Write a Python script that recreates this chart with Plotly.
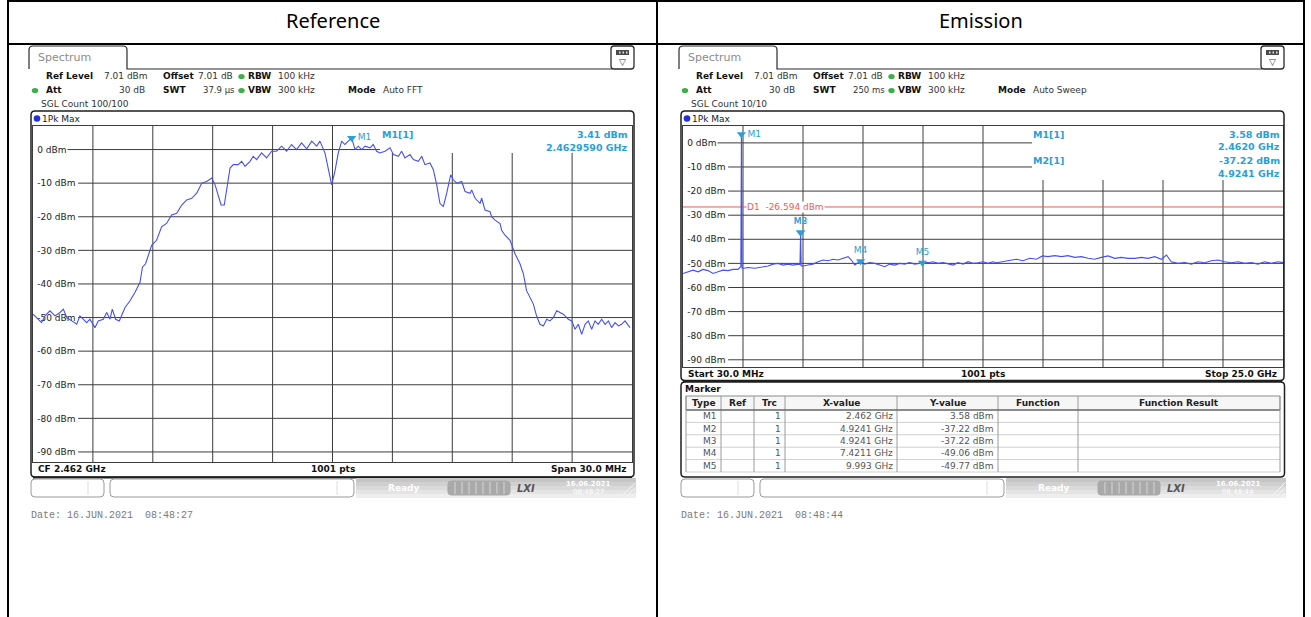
import plotly.graph_objects as go

W, H = 1311, 617
FONT = "DejaVu Sans"
MONO = "Liberation Mono"
MARKER_BLUE = "#2a9fd9"
TRACE_BLUE = "#4650ee"
GRID = "#3c3c3c"

# ---------------- data ----------------
ref_level = 7.01
level_ticks = [0, -10, -20, -30, -40, -50, -60, -70, -80, -90]

# Reference sweep: CF 2.462 GHz, span 30 MHz (MHz / dBm)
ref_start_mhz, ref_stop_mhz = 2447.0, 2477.0
ref_freq_mhz = [
    2447.00, 2447.18, 2447.43, 2447.60, 2447.85, 2448.10, 2448.35, 2448.52, 2448.69, 2448.94,
    2449.19, 2449.35, 2449.52, 2449.69, 2449.85, 2450.10, 2450.27, 2450.52, 2450.69, 2450.86,
    2450.97, 2451.14, 2451.32, 2451.47, 2451.61, 2451.86, 2452.11, 2452.36, 2452.48, 2452.64,
    2452.81, 2452.94, 2453.19, 2453.44, 2453.69, 2453.94, 2454.20, 2454.45, 2454.70, 2454.95,
    2455.20, 2455.45, 2455.70, 2455.95, 2456.12, 2456.28, 2456.42, 2456.58, 2456.70, 2456.87,
    2457.03, 2457.28, 2457.45, 2457.62, 2457.87, 2458.03, 2458.20, 2458.45, 2458.70, 2458.95,
    2459.20, 2459.45, 2459.70, 2459.95, 2460.20, 2460.45, 2460.71, 2460.96, 2461.21, 2461.37,
    2461.62, 2461.79, 2461.96, 2462.12, 2462.29, 2462.46, 2462.62, 2462.79, 2462.96, 2463.13,
    2463.29, 2463.46, 2463.63, 2463.88, 2464.04, 2464.21, 2464.38, 2464.63, 2464.88, 2465.05,
    2465.30, 2465.46, 2465.63, 2465.88, 2466.05, 2466.30, 2466.47, 2466.63, 2466.88, 2467.05,
    2467.22, 2467.38, 2467.55, 2467.72, 2467.92, 2468.05, 2468.22, 2468.47, 2468.64, 2468.89,
    2468.97, 2469.14, 2469.39, 2469.47, 2469.64, 2469.89, 2469.97, 2470.14, 2470.39, 2470.47,
    2470.64, 2470.89, 2470.97, 2471.14, 2471.39, 2471.56, 2471.72, 2471.89, 2472.06, 2472.22,
    2472.39, 2472.56, 2472.73, 2472.89, 2473.06, 2473.23, 2473.39, 2473.56, 2473.81, 2473.98,
    2474.15, 2474.31, 2474.48, 2474.65, 2474.81, 2474.98, 2475.15, 2475.31, 2475.48, 2475.65,
    2475.82, 2475.98, 2476.15, 2476.32, 2476.48, 2476.65, 2476.90,
]
ref_level_dbm = [
    -49, -50, -51.5, -49.5, -48, -49.5, -48.5, -47.5, -50, -51,
    -52, -49.5, -50.5, -51.5, -50.5, -53, -51, -50.5, -48.5, -50.5,
    -47.5, -50.5, -51, -49, -47, -45, -42.5, -39.5, -35, -34,
    -31, -28.5, -27, -23, -22, -19.5, -19, -16.5, -15, -14.5,
    -13, -10, -9.5, -8.5, -10.5, -13.5, -16.5, -16.5, -12, -5.5,
    -4.5, -4.5, -3.5, -5, -3.5, -2, -3, -1, -2.5, -0.5,
    -0.5, 1, -0.5, 1.5, 0, 2, 0.2, 2.5, 1, 2.5,
    -1, -5.5, -10.5, -6.5, -1, 2.5, 1.5, 2.5, 3.41, 0,
    1, 0, 1, 0.5, 1.5, -0.5, -1, -0.5, 0.5, -1.5,
    -2, -0.5, -2.5, -1.5, -3, -3.5, -2, -4.5, -4, -6,
    -10.5, -16, -17, -13, -7.5, -9, -10, -9.5, -12.5, -13,
    -12, -14.5, -16, -14.5, -18, -18.5, -20, -21, -22, -24,
    -25.5, -27, -28.5, -31, -34, -37, -42, -44, -46, -49.5,
    -52, -52.5, -50.5, -51, -50, -48, -48.5, -49, -50.5, -51,
    -53.5, -52, -55, -52, -51, -53.5, -51, -52, -50.5, -52,
    -51, -53, -51.5, -52.5, -52, -51, -53,
]
ref_markers = ["M1"]
ref_marker_freq = [2462.959]
ref_marker_level = [3.41]

# Emission sweep: 30 MHz .. 25 GHz (GHz / dBm)
emi_start_ghz, emi_stop_ghz = 0.03, 25.0
emi_freq_ghz = [
    0.03, 0.24, 0.447, 0.656, 0.864, 1.072, 1.28, 1.488, 1.696, 1.904,
    2.112, 2.32, 2.437, 2.462, 2.487, 2.57, 2.736, 3.014, 3.291, 3.569,
    3.777, 3.985, 4.193, 4.401, 4.609, 4.817, 4.899, 4.9241, 4.949, 5.025,
    5.233, 5.441, 5.649, 5.857, 6.066, 6.274, 6.482, 6.69, 6.898, 7.037,
    7.176, 7.4211, 7.592, 7.8, 8.008, 8.216, 8.424, 8.632, 8.84, 9.048,
    9.256, 9.464, 9.673, 9.993, 10.227, 10.435, 10.643, 10.852, 11.06, 11.268,
    11.476, 11.684, 11.892, 12.1, 12.308, 12.516, 12.724, 12.932, 13.07, 13.35,
    13.63, 13.9, 14.18, 14.46, 14.74, 14.99, 15.22, 15.5, 15.78, 16.05,
    16.33, 16.61, 16.89, 17.16, 17.44, 17.72, 18.0, 18.27, 18.55, 18.83,
    19.11, 19.38, 19.66, 19.94, 20.15, 20.35, 20.63, 20.91, 21.19, 21.46,
    21.74, 22.02, 22.3, 22.57, 22.85, 23.13, 23.41, 23.68, 23.96, 24.24,
    24.52, 24.79, 25.0,
]
emi_level_dbm = [
    -54.2, -53.5, -52.8, -53.5, -52.5, -53.0, -54.2, -53.5, -52.8, -53.0,
    -52.5, -52.5, -51.4, 3.58, -52.0, -52.0, -51.7, -52.0, -51.4, -51.1,
    -50.3, -50.0, -50.7, -50.3, -50.7, -50.3, -50.5, -37.22, -51.1, -51.1,
    -50.7, -50.3, -49.3, -48.6, -48.9, -48.3, -48.6, -47.9, -47.2, -48.6,
    -50.7, -49.06, -50.3, -49.7, -50.0, -50.7, -51.4, -50.3, -50.7, -50.0,
    -50.3, -49.7, -50.3, -49.77, -49.7, -49.3, -50.0, -49.7, -50.3, -50.7,
    -49.7, -50.3, -49.3, -50.0, -49.7, -49.3, -50.0, -49.3, -49.7, -49.3,
    -48.9, -48.3, -48.9, -47.9, -48.3, -46.9, -47.2, -46.8, -47.2, -46.8,
    -47.5, -47.2, -47.9, -48.3, -47.5, -46.9, -47.9, -47.5, -47.9, -47.9,
    -47.5, -47.9, -47.2, -48.3, -46.5, -49.3, -50.0, -49.7, -50.3, -49.3,
    -49.7, -48.9, -48.6, -49.3, -49.7, -49.3, -50.0, -49.7, -50.3, -49.3,
    -50.0, -49.3, -49.7,
]
emi_markers = ["M1", "M2", "M3", "M4", "M5"]
emi_marker_freq = [2.462, 4.9241, 4.9241, 7.4211, 9.993]
emi_marker_level = [3.58, -37.22, -37.22, -49.06, -49.77]
emi_marker_trc = [1, 1, 1, 1, 1]
d1_level = -26.594

# ---------------- helpers (pixel positions -> paper fractions) ----------------
shapes, annotations = [], []


def X(x):
    return x / W


def Y(y):
    return 1 - y / H


def text(x, y, s, size=9, color="#222222", anchor="left", bold=False, family=FONT, **kw):
    if bold:
        s = f"<b>{s}</b>"
    annotations.append(dict(
        x=X(x), y=Y(y), xref="paper", yref="paper", text=s, showarrow=False,
        xanchor=anchor, yanchor="middle", borderpad=0,
        font=dict(family=family, size=size, color=color), **kw))


def line(x0, y0, x1, y1, color="black", width=1):
    shapes.append(dict(type="line", xref="paper", yref="paper",
                       x0=X(x0), y0=Y(y0), x1=X(x1), y1=Y(y1),
                       line=dict(color=color, width=width)))


def rect(x0, y0, x1, y1, fill, color=None, width=0):
    shapes.append(dict(type="rect", xref="paper", yref="paper",
                       x0=X(x0), y0=Y(y0), x1=X(x1), y1=Y(y1), fillcolor=fill,
                       line=dict(color=color or fill, width=width)))


def dot(cx, cy, rx, ry, fill):
    shapes.append(dict(type="circle", xref="paper", yref="paper",
                       x0=X(cx - rx), y0=Y(cy - ry), x1=X(cx + rx), y1=Y(cy + ry),
                       fillcolor=fill, line=dict(width=0)))


def P(x, y):
    return f"{X(x):.5f},{Y(y):.5f}"


def rrect(x0, y0, x1, y1, r, color="#222222", width=1, fill="rgba(0,0,0,0)"):
    p = (f"M{P(x0 + r, y0)} L{P(x1 - r, y0)} Q{P(x1, y0)} {P(x1, y0 + r)} "
         f"L{P(x1, y1 - r)} Q{P(x1, y1)} {P(x1 - r, y1)} L{P(x0 + r, y1)} "
         f"Q{P(x0, y1)} {P(x0, y1 - r)} L{P(x0, y0 + r)} Q{P(x0, y0)} {P(x0 + r, y0)} Z")
    shapes.append(dict(type="path", path=p, xref="paper", yref="paper",
                       fillcolor=fill, line=dict(color=color, width=width)))


# ---------------- outer document table ----------------
line(7, 1, 1305, 1, width=2)
line(7, 44, 1305, 44, width=2)
line(8, 0, 8, H, width=2)
line(657, 0, 657, H, width=2)
line(1304, 0, 1304, H, width=2)
text(333, 21, "Reference", size=20, color="black", anchor="center", family="Noto Sans")
text(981, 21, "Emission", size=20, color="black", anchor="center", family="Noto Sans")


def chrome(dx, swt, mode, sgl, frame_bottom, footer_y, footer, date):
    # tab, baseline and the small menu icon
    p = (f"M{P(29 + dx, 69)} L{P(29 + dx, 50)} Q{P(29 + dx, 46)} {P(33 + dx, 46)} "
         f"L{P(123 + dx, 46)} Q{P(127 + dx, 46)} {P(127 + dx, 50)} L{P(127 + dx, 69)} "
         f"L{P(612 + dx, 69)}")
    shapes.append(dict(type="path", path=p, xref="paper", yref="paper",
                       line=dict(color="#2b2b2b", width=1.2)))
    text(37 + dx, 58, "Spectrum", size=11, color="#8c8c8c")
    rrect(611 + dx, 46, 634 + dx, 69, 3, color="#2b2b2b", width=1.3, fill="white")
    rect(616 + dx, 50, 629 + dx, 55, fill="#4a4a4a")
    for k in range(3):
        rect(619 + dx + 3.5 * k, 51.5, 620.5 + dx + 3.5 * k, 53.5, fill="#dddddd")
    text(622.5 + dx, 61.5, "▽", size=9, color="#333333", anchor="center")

    # settings block
    row1 = [(45, "Ref Level", True), (103, "7.01 dBm", False), (162, "Offset", True),
            (197, "7.01 dB", False), (247, "RBW", True), (277, "100 kHz", False)]
    for x, s, b in row1:
        text(x + dx, 76, s, bold=b, color="#111111" if b else "#333333")
    row2 = [(45, "Att", True), (162, "SWT", True), (247, "VBW", True),
            (277, "300 kHz", False), (347, "Mode", True), (382, mode, False)]
    for x, s, b in row2:
        text(x + dx, 90, s, bold=b, color="#111111" if b else "#333333")
    text(202 + dx, 90, swt, size=8.5, color="#333333")
    text(146 + dx, 90, "30 dB", anchor="right", color="#333333")
    text(40 + dx, 104, sgl, color="#333333")
    dot(241.5 + dx, 76.5, 3.2, 2.6, "#3fae49")
    dot(241.5 + dx, 90.5, 3.2, 2.6, "#3fae49")
    dot(35 + dx, 90.5, 3.2, 2.6, "#3fae49")

    # diagram frame
    rrect(31 + dx, 111, 634 + dx, frame_bottom, 4, color="#1e1e1e", width=1.5)
    line(33 + dx, frame_bottom + 0.5, 632 + dx, frame_bottom + 0.5, color="#1e1e1e", width=2)
    dot(37 + dx, 118.5, 3.3, 3.3, "#2330d8")
    text(41 + dx, 118.5, "1Pk Max", color="#222222")
    text(37 + dx, footer_y, footer[0], bold=True, color="#111111")
    text(332.5 + dx, footer_y, footer[1], bold=True, color="#111111", anchor="center")
    text(628 + dx, footer_y, footer[2], bold=True, color="#111111", anchor="right")

    # status bar
    rrect(31 + dx, 479, 104 + dx, 497, 4, color="#9a9a9a", fill="white")
    line(88 + dx, 481, 88 + dx, 495, color="#dddddd")
    rrect(110 + dx, 479, 354 + dx, 497, 4, color="#9a9a9a", fill="white")
    line(337 + dx, 481, 337 + dx, 495, color="#dddddd")
    for k, c in enumerate(["#c6c6c6", "#d0d0d0", "#dadada", "#e4e4e4", "#eeeeee"]):
        rect(356 + dx, 478 + 4 * k, 636 + dx, 482 + 4 * k, fill=c)
    text(387 + dx, 488, "Ready", bold=True, color="white")
    rrect(448 + dx, 481, 510 + dx, 495, 3, color="#a9a9a9", fill="#a9a9a9")
    for k in range(1, 9):
        line(448 + dx + 7 * k, 482, 448 + dx + 7 * k, 494, color="#d6d6d6")
    text(526 + dx, 488, "<i><b>LXI</b></i>", size=10, color="#555555", anchor="center")
    text(588 + dx, 484, "<b>16.06.2021</b>", size=7, color="white", anchor="center")
    text(588 + dx, 492, date[-8:], size=7, color="white", anchor="center")
    for k in range(3):
        line(621 + dx + 5 * k, 497, 635 + dx, 483 + 5 * k, color="#f4f4f4")

    text(30 + dx, 515, date, size=10, color="#7a7a7a", family=MONO)


chrome(0, "37.9 µs", "Auto FFT", "SGL Count 100/100", 477, 469,
       ("CF 2.462 GHz", "1001 pts", "Span 30.0 MHz"), "Date: 16.JUN.2021  08:48:27")
chrome(650, "250 ms", "Auto Sweep", "SGL Count 10/10", 380.5, 373.5,
       ("Start 30.0 MHz", "1001 pts", "Stop 25.0 GHz"), "Date: 16.JUN.2021  08:48:44")


# graticule: 10 divisions each way, level lines start right after their label and
# the lines under the marker readout stay hidden
def graticule(xr, yr, start, stop, plot_w, plot_h, cut_x, cut_y, cut_levels):
    span = stop - start
    for k in range(1, 10):
        xv = start + k * span / 10
        top = 1 if k * plot_w / 10 < cut_x else 1 - cut_y / plot_h
        shapes.append(dict(type="line", layer="below", xref=xr, yref=f"{yr} domain",
                           x0=xv, x1=xv, y0=0, y1=top, line=dict(color=GRID, width=1)))
    for v in level_ticks:
        lab = f"{v} dBm"
        x0 = (8 + 5.3 * len(lab)) / plot_w
        x1 = cut_x / plot_w if v in cut_levels else 1
        shapes.append(dict(type="line", layer="below", xref=f"{xr} domain", yref=yr,
                           x0=x0, x1=x1, y0=v, y1=v, line=dict(color=GRID, width=1)))


graticule("x", "y", ref_start_mhz, ref_stop_mhz, 599, 336, 347, 27, [0])
graticule("x2", "y2", emi_start_ghz, emi_stop_ghz, 600, 241, 349, 54, [0, -10])

# D1 display line
shapes.append(dict(type="line", layer="below", xref="x2 domain", yref="y2",
                   x0=0, x1=1, y0=d1_level, y1=d1_level, line=dict(color="#f05a50", width=1)))
annotations.append(dict(x=2.64, y=d1_level, xref="x2", yref="y2", showarrow=False,
                        xanchor="left", yanchor="middle", bgcolor="white", borderpad=0,
                        text=f"D1&nbsp;&nbsp;{d1_level:.3f} dBm",
                        font=dict(family=FONT, size=9, color="#f05a50")))

# marker readouts
text(381, 134, "M1[1]", bold=True, color=MARKER_BLUE, size=9.5)
text(629, 134, f"{ref_marker_level[0]:.2f} dBm", bold=True, color=MARKER_BLUE, size=9.5, anchor="right")
text(629, 147, f"{ref_marker_freq[0] / 1000:.7f} GHz", bold=True, color=MARKER_BLUE, size=9.5, anchor="right")
text(1032, 134, "M1[1]", bold=True, color=MARKER_BLUE, size=9.5)
text(1281, 134, f"{emi_marker_level[0]:.2f} dBm", bold=True, color=MARKER_BLUE, size=9.5, anchor="right")
text(1281, 146.5, f"{emi_marker_freq[0]:.4f} GHz", bold=True, color=MARKER_BLUE, size=9.5, anchor="right")
text(1032, 160.5, "M2[1]", bold=True, color=MARKER_BLUE, size=9.5)
text(1281, 160.5, f"{emi_marker_level[1]:.2f} dBm", bold=True, color=MARKER_BLUE, size=9.5, anchor="right")
text(1281, 173, f"{emi_marker_freq[1]:.4f} GHz", bold=True, color=MARKER_BLUE, size=9.5, anchor="right")

# marker table (Emission)
rrect(681, 382, 1284.5, 477, 4, color="#1e1e1e", width=1.5)
text(684, 388.5, "Marker", bold=True, color="#111111")
cols = [686, 721, 754, 785, 897, 998, 1078, 1280]
headers = ["Type", "Ref", "Trc", "X-value", "Y-value", "Function", "Function Result"]
rect(cols[0], 396, cols[-1], 410, fill="#f6f6f6", color="#8a8a8a", width=1)
row_h = 12.4
for r in range(len(emi_markers)):
    yc = 410 + row_h * (r + 0.5)
    line(cols[0], 410 + row_h * (r + 1), cols[-1], 410 + row_h * (r + 1), color="#cfcfcf")
    text(cols[1] - 3, yc, emi_markers[r], color="#555555", anchor="right")
    text(cols[3] - 3, yc, str(emi_marker_trc[r]), color="#555555", anchor="right")
    text(cols[4] - 3, yc, f"{emi_marker_freq[r]:g} GHz", color="#555555", anchor="right")
    text(cols[5] - 3, yc, f"{emi_marker_level[r]:.2f} dBm", color="#555555", anchor="right")
for i, hname in enumerate(headers):
    text((cols[i] + cols[i + 1]) / 2, 403, hname, bold=True, color="#222222", anchor="center")
    if i:
        line(cols[i], 396, cols[i], 472, color="#9a9a9a")
line(cols[0], 410, cols[-1], 410, color="#555555", width=1.2)
line(cols[0], 396, cols[0], 472, color="#9a9a9a")
line(cols[-1], 396, cols[-1], 472, color="#9a9a9a")

# ---------------- traces ----------------
fig = go.Figure()
fig.add_trace(go.Scatter(x=ref_freq_mhz, y=ref_level_dbm, mode="lines", xaxis="x", yaxis="y",
                         line=dict(color=TRACE_BLUE, width=1.1), hoverinfo="skip"))
fig.add_trace(go.Scatter(x=ref_marker_freq, y=ref_marker_level, mode="markers+text",
                         xaxis="x", yaxis="y", text=ref_markers, textposition="middle right",
                         marker=dict(symbol="triangle-down", size=8, color=MARKER_BLUE),
                         textfont=dict(family=FONT, size=9, color=MARKER_BLUE),
                         cliponaxis=False, hoverinfo="skip"))
fig.add_trace(go.Scatter(x=emi_freq_ghz, y=emi_level_dbm, mode="lines", xaxis="x2", yaxis="y2",
                         line=dict(color=TRACE_BLUE, width=1.1), hoverinfo="skip"))
fig.add_trace(go.Scatter(x=emi_marker_freq, y=emi_marker_level, mode="markers+text",
                         xaxis="x2", yaxis="y2", text=emi_markers,
                         textposition=["middle right", "top center", "top center", "top center", "top center"],
                         marker=dict(symbol="triangle-down", size=8, color=MARKER_BLUE),
                         textfont=dict(family=FONT, size=9, color=MARKER_BLUE),
                         cliponaxis=False, hoverinfo="skip"))

axis_common = dict(showgrid=False, zeroline=False, showline=True, mirror=True,
                   linecolor=GRID, linewidth=1, ticks="", fixedrange=True,
                   layer="below traces")
y_common = dict(range=[ref_level - 100, ref_level], tickmode="array", tickvals=level_ticks,
                ticktext=[f"{v} dBm" for v in level_ticks], ticklabelposition="inside",
                ticklabelstandoff=3, tickfont=dict(family=FONT, size=9, color="#222222"))

fig.update_layout(
    width=W, height=H, margin=dict(l=0, r=0, t=0, b=0),
    paper_bgcolor="white", plot_bgcolor="white", showlegend=False,
    xaxis=dict(domain=[X(33), X(632)], range=[ref_start_mhz, ref_stop_mhz],
               showticklabels=False, anchor="y", **axis_common),
    yaxis=dict(domain=[Y(462), Y(126)], anchor="x", **y_common, **axis_common),
    xaxis2=dict(domain=[X(683), X(1283)], range=[emi_start_ghz, emi_stop_ghz],
                showticklabels=False, anchor="y2", **axis_common),
    yaxis2=dict(domain=[Y(367), Y(126)], anchor="x2", **y_common, **axis_common),
    shapes=shapes, annotations=annotations,
)

fig.write_html("out.html", config={"displayModeBar": False},
               post_script="document.body.style.margin = '0';")
